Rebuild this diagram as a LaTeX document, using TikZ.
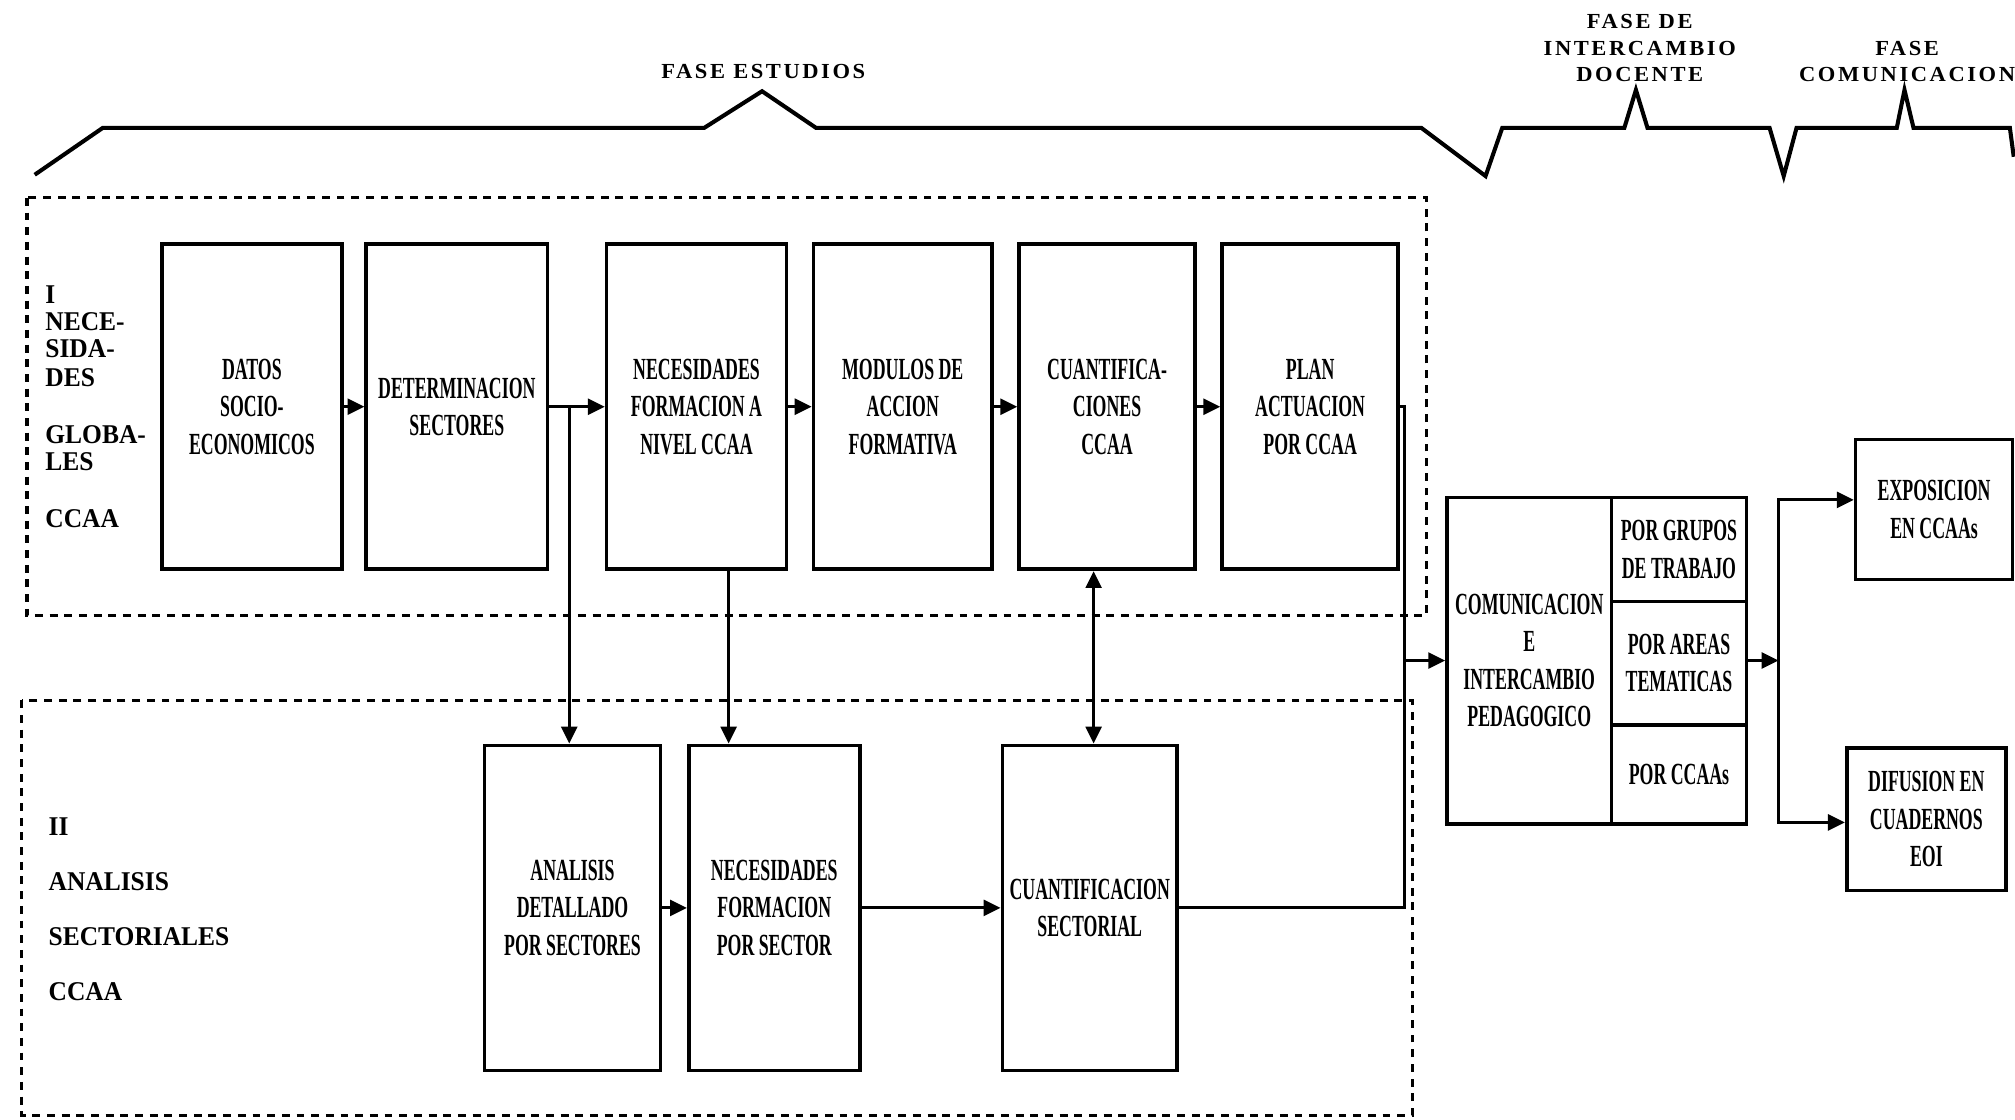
\documentclass[tikz,border=0pt]{standalone}
\usepackage{fontspec}
\setmainfont{Liberation Serif}
\newfontfamily\boxfont[FakeStretch=0.58]{Liberation Serif}
\newfontfamily\lblfont[FakeStretch=0.94]{Liberation Serif}
\newfontfamily\hdrfont[FakeStretch=1.05,LetterSpace=12]{Liberation Serif}
\usetikzlibrary{arrows.meta}
\tikzset{
  stagebox/.style={draw, line width=1.6pt, inner sep=0pt, align=center,
    font=\boxfont\bfseries\fontsize{13.6}{16.6}\selectfont},
  rowbox/.style={stagebox, minimum height=5.06cm},
  conn/.style={line width=1.4pt},
  arr/.style={conn, -{Triangle[length=7.5pt,width=7pt]}},
  dblarr/.style={conn, {Triangle[length=7.5pt,width=7pt]}-{Triangle[length=7.5pt,width=7pt]}},
  dashbox/.style={line width=1.4pt, dash pattern=on 3.5pt off 3pt},
  bracket/.style={line width=1.8pt, line join=miter},
  hdr/.style={font=\hdrfont\bfseries\fontsize{9.5}{11.9}\selectfont, align=center, inner sep=0pt},
  lbl/.style={font=\lblfont\bfseries\fontsize{12}{11.95}\selectfont, align=left, inner sep=0pt, anchor=north west}
}
\begin{document}
\begin{tikzpicture}[x=0.02cm, y=-0.02cm]
\useasboundingbox (0,0) rectangle (1568,871);

% phase bracket line
\draw[bracket] (27,136) -- (80,99.5) -- (548,99.5) -- (593,71) -- (635,99.5) -- (1106,99.5)
  -- (1156,137) -- (1169,99.5) -- (1264,99.5) -- (1273,70) -- (1282,99.5) -- (1377,99.5)
  -- (1388,137) -- (1398,99.5) -- (1476,99.5) -- (1482,70) -- (1489,99.5) -- (1564,99.5) -- (1567,122);

% phase headers
\node[hdr, anchor=base] (h1) at (594,61) {FASE ESTUDIOS};
\node[hdr, anchor=north] (h2) at (1276,10.5) {FASE DE\\INTERCAMBIO\\DOCENTE};
\node[hdr, anchor=north] (h3) at (1484,31.5) {FASE\\COMUNICACION};

% dashed groups
\draw[dashbox] (21,154) rectangle (1110,479);
\draw[dashbox] (17,545) rectangle (1099,868);

% group labels
\node[lbl] (lI) at (35,222) {I\\NECE-\\SIDA-\\[0.04cm]DES\\[0.46cm]GLOBA-\\LES\\[0.46cm]CCAA};
\node[lbl, font=\lblfont\bfseries\fontsize{12}{24.4}\selectfont] (lII) at (37.5,636) {II\\ANALISIS\\SECTORIALES\\CCAA};

% row I
\node[rowbox, minimum width=2.80cm] (datos)  at (196,316.5)  {DATOS\\SOCIO-\\ECONOMICOS};
\node[rowbox, minimum width=2.82cm] (determ) at (355.5,316.5) {DETERMINACION\\SECTORES};
\node[rowbox, minimum width=2.80cm] (nec)    at (542,316.5)  {NECESIDADES\\FORMACION A\\NIVEL CCAA};
\node[rowbox, minimum width=2.78cm] (mod)    at (702.5,316.5) {MODULOS DE\\ACCION\\FORMATIVA};
\node[rowbox, minimum width=2.74cm] (cuant)  at (861.5,316.5) {CUANTIFICA-\\CIONES\\CCAA};
\node[rowbox, minimum width=2.74cm] (plan)   at (1019.5,316.5) {PLAN\\ACTUACION\\POR CCAA};

% row II
\node[rowbox, minimum width=2.74cm] (anal)  at (445.5,706.5) {ANALISIS\\DETALLADO\\POR SECTORES};
\node[rowbox, minimum width=2.66cm] (necs)  at (602.5,706.5) {NECESIDADES\\FORMACION\\POR SECTOR};
\node[rowbox, minimum width=2.72cm] (csect) at (848,706.5)   {CUANTIFICACION\\SECTORIAL};

% communication block
\node[stagebox, minimum width=2.56cm, minimum height=5.08cm] (comL) at (1190,514) {COMUNICACION\\E\\INTERCAMBIO\\PEDAGOGICO};
\node[stagebox, minimum width=2.10cm, minimum height=1.62cm] (c1) at (1306.5,427.5) {POR GRUPOS\\DE TRABAJO};
\node[stagebox, minimum width=2.10cm, minimum height=1.92cm] (c2) at (1306.5,516) {POR AREAS\\TEMATICAS};
\node[stagebox, minimum width=2.10cm, minimum height=1.54cm] (c3) at (1306.5,602.5) {POR CCAAs};

% outputs
\node[stagebox, minimum width=2.44cm, minimum height=2.18cm] (expo) at (1505,396.5) {EXPOSICION\\EN CCAAs};
\node[stagebox, minimum width=2.48cm, minimum height=2.22cm] (difu) at (1499,637.5) {DIFUSION EN\\CUADERNOS\\EOI};

% row I connectors
\draw[arr] (datos.east) -- (determ.west);
\draw[arr] (determ.east) -- (nec.west);
\draw[arr] (nec.east) -- (mod.west);
\draw[arr] (mod.east) -- (cuant.west);
\draw[arr] (cuant.east) -- (plan.west);

% row II connectors
\draw[arr] (anal.east) -- (necs.west);
\draw[arr] (necs.east) -- (csect.west);

% vertical links
\coordinate (j1) at (443,316.5);
\draw[arr] (j1) -- (j1 |- anal.north);
\draw[arr] ([xshift=0.5cm]nec.south) -- ([xshift=0.5cm]nec.south |- necs.north);
\draw[dblarr] ([xshift=-0.21cm]cuant.south) -- ([xshift=-0.21cm]cuant.south |- csect.north);

% collector to communication
\coordinate (r1) at (1093,316.5);
\coordinate (r2) at (1093,706.5);
\draw[conn] (plan.east) -- (r1) -- (r2) -- (csect.east);
\draw[arr] (r1 |- comL.west) -- (comL.west);

% distribution
\coordinate (b) at (1384,514);
\coordinate (bt) at (1384,389);
\coordinate (bb) at (1384,640);
\draw[arr] (c2.east |- b) -- (b);
\draw[dblarr] (bt -| expo.west) -- (bt) -- (bb) -- (bb -| difu.west);
\end{tikzpicture}
\end{document}
